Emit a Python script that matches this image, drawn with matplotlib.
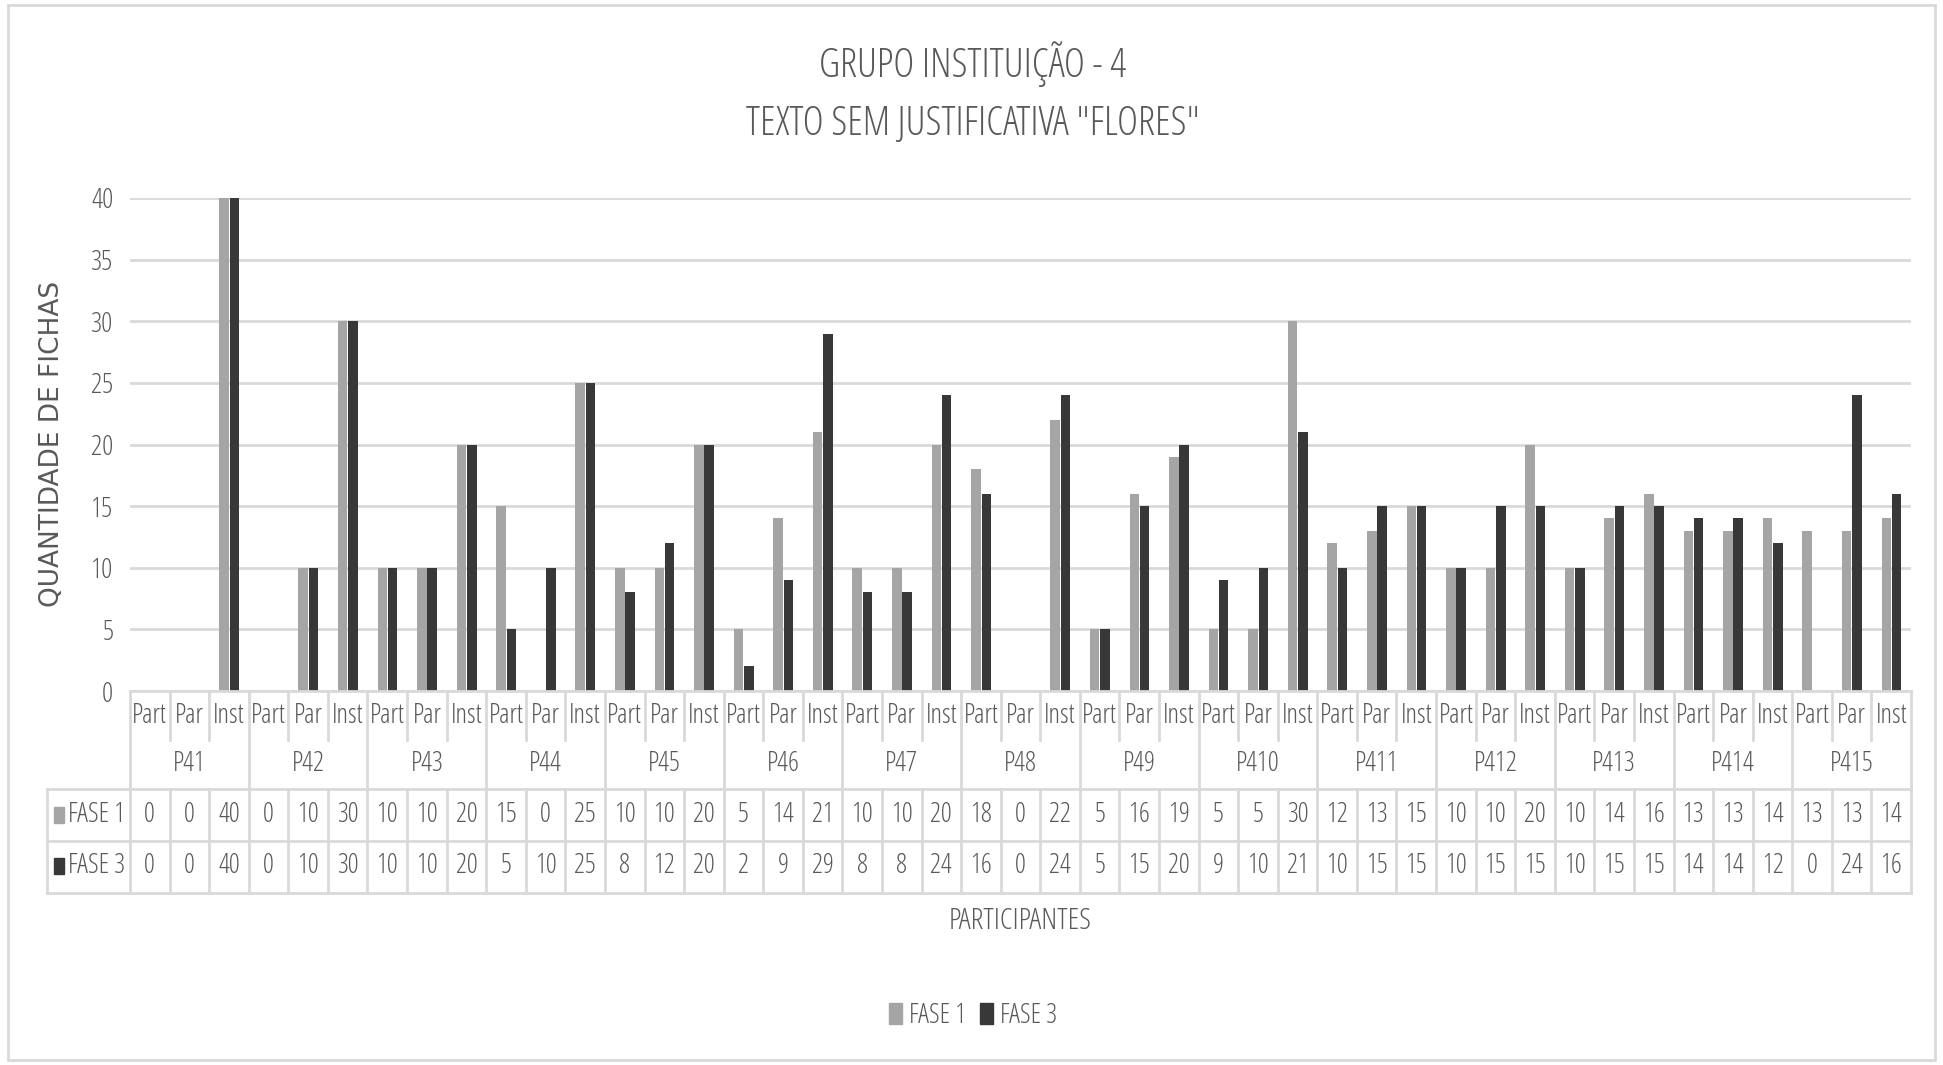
import matplotlib
matplotlib.use("Agg")
import matplotlib.pyplot as plt
import numpy as np
from matplotlib.lines import Line2D
from matplotlib.patches import Patch, Rectangle
from matplotlib.transforms import blended_transform_factory

plt.rcParams['font.family'] = ['Open Sans', 'DejaVu Sans']
plt.rcParams['font.stretch'] = 'condensed'
plt.rcParams['font.weight'] = 300

participants = ["P41", "P42", "P43", "P44", "P45", "P46", "P47", "P48",
                "P49", "P410", "P411", "P412", "P413", "P414", "P415"]
kinds = ["Part", "Par", "Inst"]

fase1 = [0, 0, 40, 0, 10, 30, 10, 10, 20, 15, 0, 25, 10, 10, 20,
         5, 14, 21, 10, 10, 20, 18, 0, 22, 5, 16, 19, 5, 5, 30,
         12, 13, 15, 10, 10, 20, 10, 14, 16, 13, 13, 14, 13, 13, 14]
fase3 = [0, 0, 40, 0, 10, 30, 10, 10, 20, 5, 10, 25, 8, 12, 20,
         2, 9, 29, 8, 8, 24, 16, 0, 24, 5, 15, 20, 9, 10, 21,
         10, 15, 15, 10, 15, 15, 10, 15, 15, 14, 14, 12, 0, 24, 16]

W, H = 1943, 1065
TXT = "#595959"
GRID = "#d9d9d9"
C1 = "#a5a5a5"
C3 = "#383838"


def fx(px):
    return px / W


def fy(py):
    return 1 - py / H


fig = plt.figure(figsize=(W / 100, H / 100), dpi=100)
fig.patch.set_facecolor("white")

# outer chart frame
fig.add_artist(Rectangle((fx(8), fy(1060)), fx(1935) - fx(8), fy(5) - fy(1060),
                         transform=fig.transFigure, fill=False, edgecolor=GRID, lw=2))

x_left, x_right = 130, 1911
y_top, y_zero = 198, 691
ax = fig.add_axes([fx(x_left), fy(y_zero), fx(x_right) - fx(x_left), fy(y_top) - fy(y_zero)])

n = len(fase1)
x = np.arange(n)
bw = 0.24
ax.bar(x - 0.125, fase1, width=bw, color=C1, zorder=3)
ax.bar(x + 0.135, fase3, width=bw, color=C3, zorder=3)

ax.set_xlim(-0.5, n - 0.5)
ax.set_ylim(0, 40)
ax.set_yticks(range(0, 41, 5))
ax.set_xticks([])
ax.tick_params(axis='y', length=0, pad=12, labelsize=20, labelcolor=TXT)
for s in ax.spines.values():
    s.set_visible(False)
ax.grid(axis='y', color=GRID, lw=2, zorder=0)
ax.set_axisbelow(True)

# category table under the axis
tr = blended_transform_factory(ax.transData, fig.transFigure)
lkw = dict(color=GRID, lw=2, transform=tr, clip_on=False)

def hline(py, x0=-0.5, x1=n - 0.5):
    fig.add_artist(Line2D([x0, x1], [fy(py), fy(py)], **lkw))

def vline(xd, py0, py1):
    fig.add_artist(Line2D([xd, xd], [fy(py0), fy(py1)], **lkw))

r_cat, r_grp, r_f1, r_f3 = 740, 789, 841, 893
hline(y_zero)
for i in range(n + 1):
    if i % 3 == 0:
        vline(i - 0.5, y_zero, r_f3)
    else:
        vline(i - 0.5, y_zero, r_cat)
        vline(i - 0.5, r_grp, r_f3)

# data rows extend to the left for the series keys
x_tab = (47 - x_left) / ((x_right - x_left) / n) - 0.5
for py in (r_grp, r_f1, r_f3):
    hline(py, x_tab, n - 0.5)
vline(x_tab, r_grp, r_f3)

tkw = dict(transform=tr, ha='center', va='center', color=TXT, fontsize=19.5)
for i in range(n):
    fig.text(i, fy(716), kinds[i % 3], **tkw)
    fig.text(i, fy(815), str(fase1[i]), **tkw)
    fig.text(i, fy(866), str(fase3[i]), **tkw)
for g, p in enumerate(participants):
    fig.text(3 * g + 1, fy(764), p, **tkw)

for py, lab, col in ((815, "FASE 1", C1), (866, "FASE 3", C3)):
    fig.add_artist(Rectangle((fx(54), fy(py + 8)), fx(10), fy(py - 8) - fy(py + 8),
                             transform=fig.transFigure, color=col))
    fig.text(fx(68), fy(py), lab, ha='left', va='center', color=TXT, fontsize=19.5)

# titles and axis labels
fig.text(fx(973), fy(64), "GRUPO INSTITUIÇÃO - 4", ha='center', va='center',
         color=TXT, fontsize=29)
fig.text(fx(973), fy(124), 'TEXTO SEM JUSTIFICATIVA "FLORES"', ha='center', va='center',
         color=TXT, fontsize=29)
fig.text(fx(52), fy(444), "QUANTIDADE DE FICHAS", rotation=90, ha='center', va='center',
         color=TXT, fontsize=19, family=['DejaVu Sans'], fontstretch='normal',
         fontweight='normal')
fig.text(fx(1020), fy(921), "PARTICIPANTES", ha='center', va='center',
         color=TXT, fontsize=21.5)

handles = [Patch(color=C1, label="FASE 1"), Patch(color=C3, label="FASE 3")]
fig.legend(handles=handles, loc='center', bbox_to_anchor=(fx(973), fy(1016)), ncol=2,
           frameon=False, fontsize=19.5, labelcolor=TXT, handlelength=0.5,
           handleheight=0.8, handletextpad=0.25, columnspacing=0.5)

fig.savefig("out.png", dpi=100)
